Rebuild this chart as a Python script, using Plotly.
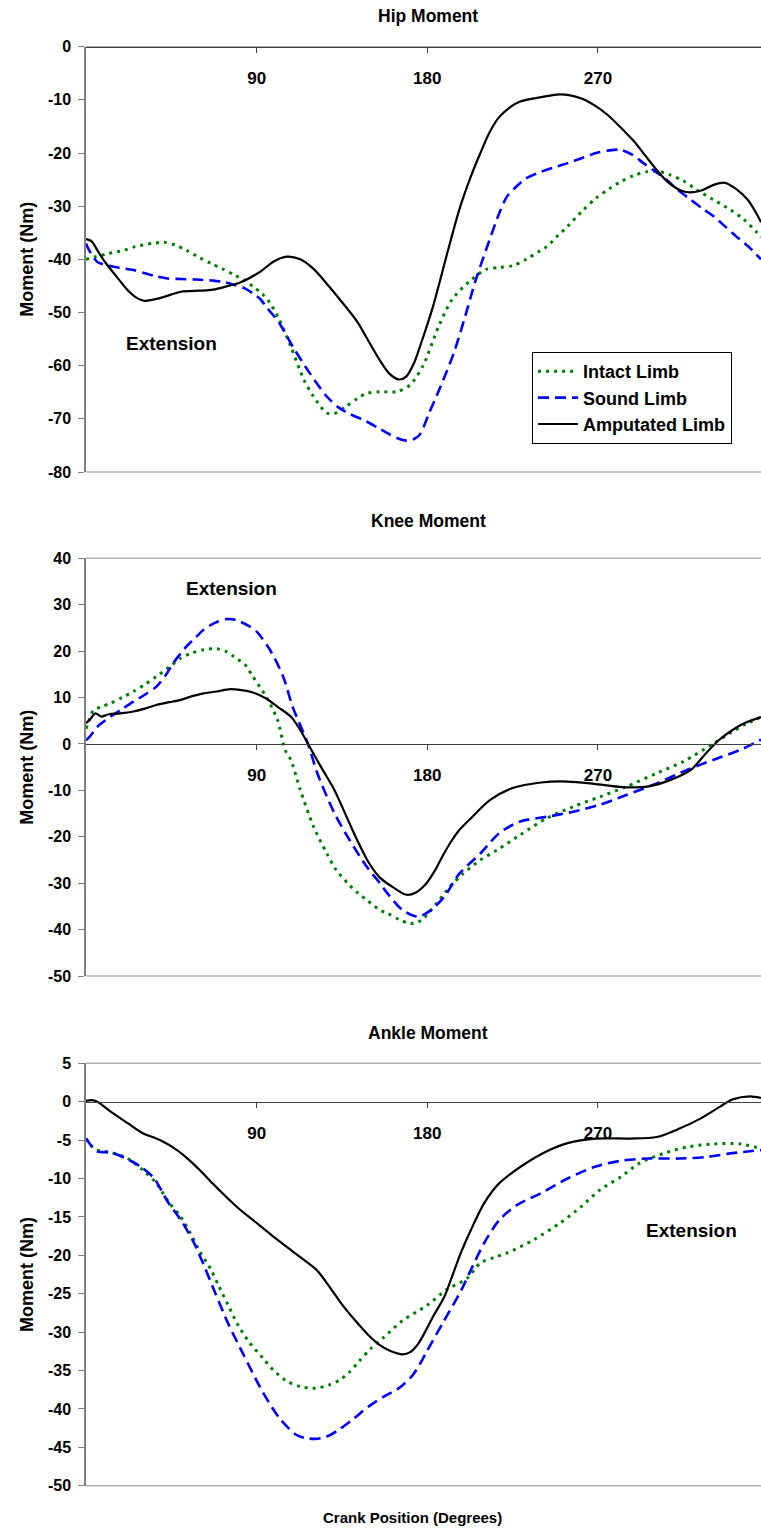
import plotly.graph_objects as go

# ---------------- data (crank angle in degrees, moment in Nm) ----------------
hip_intact_x = [0, 5, 12, 20, 26, 35, 41, 47, 53, 60, 66, 72, 78, 84, 88, 93, 97, 102, 108, 115, 120, 127, 131, 137, 143, 148, 155, 164, 171, 178, 186, 193, 202, 211, 218, 225, 232, 239, 243, 249, 254, 262, 269, 276, 282, 289, 296, 302, 308, 315, 322, 331, 340, 347, 354, 356]
hip_intact_y = [-40.0, -39.5, -38.9, -38.3, -37.6, -37.0, -36.8, -37.3, -38.3, -39.7, -40.8, -41.8, -42.9, -44.0, -45.1, -46.5, -48.2, -51.4, -56.4, -62.7, -65.8, -68.9, -69.0, -67.7, -66.2, -65.2, -64.9, -64.9, -63.6, -59.8, -52.6, -47.6, -44.2, -41.9, -41.5, -41.2, -40.0, -38.5, -37.6, -35.5, -33.8, -30.8, -28.5, -26.7, -25.4, -24.2, -23.5, -23.5, -24.1, -25.2, -26.9, -28.8, -30.7, -32.5, -35.0, -35.8]

hip_sound_x = [0, 2, 6, 12, 18, 25, 31, 37, 43, 50, 58, 67, 73, 78, 84, 88, 92, 95, 102, 109, 118, 127, 133, 138, 148, 154, 159, 164, 169, 173, 176, 181, 187, 194, 200, 205, 211, 218, 222, 227, 232, 238, 246, 254, 262, 269, 276, 282, 288, 294, 300, 306, 312, 319, 325, 331, 337, 343, 350, 356]
hip_sound_y = [-37.0, -38.5, -40.5, -41.2, -41.6, -42.0, -42.6, -43.2, -43.6, -43.7, -43.8, -44.0, -44.3, -44.8, -45.5, -46.4, -47.5, -48.9, -52.0, -56.4, -61.4, -65.8, -67.8, -68.9, -70.5, -71.7, -72.7, -73.6, -74.1, -73.8, -73.0, -68.9, -63.9, -57.6, -50.7, -44.5, -38.2, -31.3, -28.2, -26.3, -24.8, -23.8, -22.8, -21.9, -20.9, -20.0, -19.5, -19.4, -20.3, -21.9, -23.4, -25.0, -26.9, -28.8, -30.4, -31.9, -33.8, -35.7, -37.8, -40.0]

hip_amp_x = [0, 3, 6, 10, 16, 22, 27, 31, 39, 50, 60, 67, 75, 81, 92, 99, 106, 113, 120, 128, 134, 143, 150, 155, 160, 165, 169, 173, 177, 183, 191, 197, 203, 208, 213, 218, 224, 229, 240, 250, 261, 268, 275, 282, 289, 295, 301, 306, 310, 314, 319, 325, 331, 337, 343, 349, 353, 356]
hip_amp_y = [-36.2, -36.6, -38.3, -40.5, -43.2, -45.8, -47.3, -47.8, -47.3, -46.1, -45.9, -45.7, -45.0, -44.4, -42.3, -40.4, -39.5, -40.0, -41.8, -45.0, -47.6, -51.7, -56.0, -59.0, -61.5, -62.6, -62.0, -59.5, -55.5, -48.9, -38.2, -30.5, -24.4, -20.0, -16.0, -13.2, -11.3, -10.3, -9.5, -8.95, -9.7, -11.0, -12.8, -15.2, -17.8, -20.5, -23.2, -25.2, -26.3, -27.1, -27.4, -27.0, -26.0, -25.6, -26.8, -28.8, -31.0, -33.0]

knee_intact_x = [0, 2, 4, 8, 13, 19, 25, 31, 37, 44, 50, 56, 62, 69, 74, 78, 84, 88, 95, 101, 105, 108, 113, 120, 127, 132, 138, 143, 148, 155, 159, 165, 171, 175, 178, 185, 192, 199, 208, 217, 229, 243, 257, 271, 285, 301, 315, 331, 340, 348, 356]
knee_intact_y = [3.3, 5.5, 7.3, 8.0, 8.8, 10.0, 11.3, 12.8, 14.5, 16.6, 18.5, 19.6, 20.3, 20.5, 19.9, 18.8, 17.0, 14.5, 10.2, 5.2, -1.3, -3.4, -9.9, -17.8, -23.6, -27.2, -30.0, -32.0, -33.6, -35.8, -36.5, -37.8, -38.7, -38.4, -37.6, -34.3, -30.7, -27.9, -25.0, -22.8, -19.6, -16.0, -13.5, -11.4, -9.2, -6.3, -3.8, 0.1, 2.4, 4.3, 5.8]

knee_sound_x = [0, 2, 6, 13, 19, 25, 31, 37, 42, 46, 53, 58, 62, 68, 74, 78, 81, 86, 90, 97, 104, 109, 117, 122, 131, 139, 148, 155, 159, 167, 175, 182, 189, 197, 208, 218, 229, 243, 257, 271, 285, 301, 317, 331, 345, 356]
knee_sound_y = [0.8, 1.6, 3.7, 5.9, 7.5, 9.1, 10.6, 12.3, 14.8, 17.4, 21.0, 23.0, 24.6, 26.1, 26.9, 26.8, 26.4, 25.4, 24.2, 20.3, 14.5, 8.0, 0.1, -6.3, -14.9, -20.7, -26.4, -30.0, -32.2, -35.8, -37.2, -35.8, -32.9, -27.9, -23.6, -19.2, -16.7, -15.7, -14.6, -13.1, -11.0, -8.5, -5.6, -3.4, -1.3, 0.9]

knee_amp_x = [0, 2, 5, 8, 12, 18, 25, 31, 37, 44, 50, 56, 62, 69, 76, 82, 88, 95, 101, 108, 113, 117, 124, 131, 137, 143, 149, 155, 162, 169, 174, 179, 184, 188, 192, 197, 203, 213, 225, 240, 254, 268, 283, 296, 308, 319, 327, 334, 341, 348, 356]
knee_amp_y = [4.5, 5.2, 6.6, 5.9, 6.4, 6.6, 7.0, 7.6, 8.4, 9.0, 9.5, 10.3, 10.9, 11.3, 11.8, 11.6, 11.1, 9.8, 8.0, 5.9, 3.0, 0.1, -5.0, -9.9, -15.3, -20.7, -25.5, -28.8, -30.9, -32.5, -32.0, -30.3, -27.3, -24.2, -21.4, -18.5, -16.0, -12.1, -9.5, -8.3, -8.1, -8.6, -9.3, -9.2, -7.8, -5.6, -2.0, 0.9, 3.0, 4.6, 5.8]

ankle_intact_x = [0, 3, 6, 13, 22, 30, 37, 44, 50, 55, 60, 66, 70, 75, 80, 86, 93, 99, 106, 113, 121, 128, 134, 139, 144, 150, 157, 167, 180, 190, 201, 208, 215, 222, 236, 250, 261, 271, 282, 292, 305, 317, 331, 345, 356]
ankle_intact_y = [-4.8, -5.8, -6.3, -6.6, -7.4, -8.9, -10.6, -13.2, -15.0, -17.1, -19.5, -21.9, -24.0, -26.5, -29.0, -31.3, -33.3, -35.0, -36.4, -37.1, -37.3, -36.9, -36.2, -35.2, -33.8, -32.2, -30.7, -28.5, -26.5, -24.5, -23.0, -21.0, -20.3, -19.7, -18.0, -15.8, -13.7, -11.5, -9.8, -8.0, -6.7, -5.9, -5.5, -5.5, -6.1]

ankle_sound_x = [0, 3, 6, 13, 22, 29, 36, 43, 50, 57, 62, 68, 75, 83, 93, 102, 111, 116, 121, 127, 134, 141, 149, 157, 165, 172, 176, 180, 188, 198, 203, 210, 218, 227, 240, 254, 268, 282, 296, 313, 327, 341, 356]
ankle_sound_y = [-4.8, -5.8, -6.5, -6.6, -7.5, -8.5, -10.0, -13.0, -15.4, -18.4, -21.2, -24.8, -28.9, -32.9, -37.7, -41.2, -43.4, -43.8, -43.9, -43.6, -42.6, -41.3, -39.7, -38.4, -37.3, -35.7, -34.2, -32.4, -28.9, -24.5, -21.9, -18.4, -15.4, -13.5, -11.9, -10.0, -8.5, -7.7, -7.4, -7.4, -7.2, -6.7, -6.3]

ankle_amp_x = [0, 3, 6, 13, 22, 30, 39, 48, 54, 60, 67, 74, 81, 88, 98, 108, 115, 122, 129, 135, 142, 149, 155, 160, 167, 171, 175, 179, 183, 189, 193, 198, 203, 210, 218, 229, 241, 254, 269, 287, 301, 313, 324, 334, 341, 350, 356]
ankle_amp_y = [0.1, 0.2, 0.0, -1.3, -2.8, -4.1, -5.0, -6.3, -7.5, -8.9, -10.7, -12.4, -14.0, -15.4, -17.4, -19.3, -20.6, -22.0, -24.3, -26.4, -28.5, -30.4, -31.7, -32.4, -32.9, -32.6, -31.6, -29.9, -28.0, -25.4, -22.8, -19.5, -16.7, -13.2, -10.6, -8.5, -6.7, -5.4, -4.8, -4.8, -4.6, -3.5, -2.2, -0.7, 0.3, 0.7, 0.5]

series_names = ["Intact Limb", "Sound Limb", "Amputated Limb"]
panel_titles = ["Hip Moment", "Knee Moment", "Ankle Moment"]
x_tick_vals = [90, 180, 270]
x_range = [0, 356]
y_ranges = [[-80, 0], [-50, 40], [-50, 5]]
y_dticks = [10, 10, 5]
y_title = "Moment (Nm)"
x_title = "Crank Position (Degrees)"
ann_text = "Extension"
ann_pos = [(45, -55.9), (76.6, 33.6), (319.6, -16.8)]

# ---------------- layout geometry ----------------
W, H = 761, 1530
ML = 86
panel_px = [(46.7, 472.0), (558.3, 976.0), (1063.3, 1485.7)]
domains = [[1 - b / H, 1 - t / H] for (t, b) in panel_px]

FONT = "Liberation Sans, Arial, sans-serif"
styles = [
    dict(color="#008000", width=3, dash="3px,5px"),
    dict(color="#0000FF", width=2.6, dash="11px,6px"),
    dict(color="#000000", width=2.2, dash="solid"),
]
data = [
    [(hip_intact_x, hip_intact_y), (hip_sound_x, hip_sound_y), (hip_amp_x, hip_amp_y)],
    [(knee_intact_x, knee_intact_y), (knee_sound_x, knee_sound_y), (knee_amp_x, knee_amp_y)],
    [(ankle_intact_x, ankle_intact_y), (ankle_sound_x, ankle_sound_y), (ankle_amp_x, ankle_amp_y)],
]

fig = go.Figure()
layout = dict(
    width=W, height=H,
    margin=dict(l=ML, r=0, t=0, b=0, pad=0),
    paper_bgcolor="white", plot_bgcolor="white",
    font=dict(family=FONT, color="black"),
    showlegend=True,
    legend=dict(
        x=(732 - ML) / (W - ML), xanchor="right",
        y=1 - 352 / H, yanchor="top",
        bgcolor="white", bordercolor="black", borderwidth=1,
        font=dict(family=FONT, size=18, weight="bold", color="black"),
        traceorder="normal", itemwidth=40,
    ),
)
shapes = []
annotations = []

for p in range(3):
    sfx = "" if p == 0 else str(p + 1)
    xa, ya = "x" + sfx, "y" + sfx
    for s in range(3):
        xs, ys = data[p][s]
        fig.add_trace(go.Scatter(
            x=xs, y=ys, mode="lines", name=series_names[s],
            line=dict(shape="spline", smoothing=0.8, **styles[s]),
            xaxis=xa, yaxis=ya, showlegend=(p == 0), legendgroup=series_names[s],
            hoverinfo="skip",
        ))
    y0, y1 = y_ranges[p]
    d0, d1 = domains[p]
    zero_pos = d0 + (0 - y0) / (y1 - y0) * (d1 - d0)
    yt = list(range(y0, y1 + 1, y_dticks[p]))
    layout["xaxis" + sfx] = dict(
        range=x_range, domain=[0, 1], anchor="free", position=zero_pos,
        showgrid=False, zeroline=False, showline=True, linecolor="#404040", linewidth=1,
        ticks="outside", ticklen=5, tickcolor="#404040", tickvals=x_tick_vals,
        ticktext=[str(v) for v in x_tick_vals], ticklabelstandoff=11,
        tickfont=dict(family=FONT, size=17, weight="bold", color="black"),
        automargin=False, fixedrange=True,
    )
    layout["yaxis" + sfx] = dict(
        range=[y0, y1], domain=[d0, d1], anchor=xa,
        tickvals=yt, ticktext=[str(v) for v in yt],
        showgrid=False, zeroline=False, showline=True, linecolor="#808080", linewidth=1.5,
        ticks="outside", ticklen=6, tickcolor="#808080",
        tickfont=dict(family=FONT, size=16, weight="bold", color="black"),
        ticklabelstandoff=4,
        title=dict(text=y_title, standoff=10,
                   font=dict(family=FONT, size=18, weight="bold", color="black")),
        automargin=False, fixedrange=True,
    )
    for yy in (0, 1):
        shapes.append(dict(type="line", xref=xa + " domain", yref=ya + " domain",
                           x0=0, x1=1, y0=yy, y1=yy,
                           line=dict(color="#B0B0B0", width=1.5), layer="below"))
    annotations.append(dict(
        text=ann_text, x=ann_pos[p][0], y=ann_pos[p][1], xref=xa, yref=ya,
        showarrow=False, font=dict(family=FONT, size=19, weight="bold", color="black"),
        xanchor="center", yanchor="middle",
    ))

title_y_px = [16, 521, 1033]
for p in range(3):
    annotations.append(dict(
        text=panel_titles[p], x=(428 - ML) / (W - ML), y=1 - title_y_px[p] / H,
        xref="paper", yref="paper", showarrow=False, xanchor="center", yanchor="middle",
        font=dict(family=FONT, size=17.5, weight="bold", color="black"),
    ))
annotations.append(dict(
    text=x_title, x=(412 - ML) / (W - ML), y=1 - 1517 / H, xref="paper", yref="paper",
    showarrow=False, xanchor="center", yanchor="middle",
    font=dict(family=FONT, size=15, weight="bold", color="black"),
))

layout["shapes"] = shapes
layout["annotations"] = annotations
fig.update_layout(**layout)
fig.write_html("out.html")
